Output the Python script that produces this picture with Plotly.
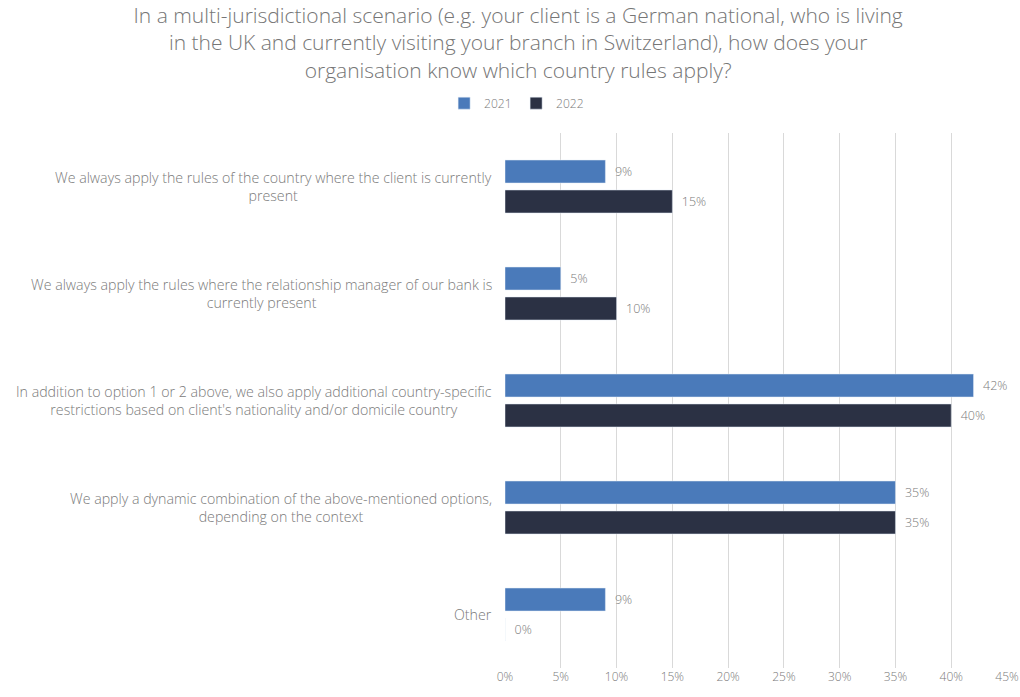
import plotly.graph_objects as go

categories = [
    "We always apply the rules of the country where the client is currently<br>present",
    "We always apply the rules where the relationship manager of our bank is<br>currently present",
    "In addition to option 1 or 2 above, we also apply additional country-specific<br>restrictions based on client's nationality and/or domicile country",
    "We apply a dynamic combination of the above-mentioned options,<br>depending on the context",
    "Other",
]
keys = ["c1", "c2", "c3", "c4", "c5"]
values_2021 = [9, 5, 42, 35, 9]
values_2022 = [15, 10, 40, 35, 0]
tick_vals = [0, 5, 10, 15, 20, 25, 30, 35, 40, 45]
tick_text = [f"{v}%" for v in tick_vals]

FONT = "'Open Sans', Lato, sans-serif"
GREY = "#7a7a7a"
PAD = "\u00a0\u00a0"

fig = go.Figure()
fig.add_trace(go.Bar(
    y=keys, x=values_2021, name="2021", orientation="h",
    marker=dict(color="#4a7aba"),
    text=[f"{PAD}{v}%" for v in values_2021], textposition="outside",
    textfont=dict(color=GREY, size=12.5, family=FONT, weight=300), cliponaxis=False,
))
fig.add_trace(go.Bar(
    y=keys, x=values_2022, name="2022", orientation="h",
    marker=dict(color="#2b3144"),
    text=[f"{PAD}{v}%" for v in values_2022], textposition="outside",
    textfont=dict(color=GREY, size=12.5, family=FONT, weight=300), cliponaxis=False,
))

# Category labels: centred multi-line text, right-aligned to the axis
for k, label in zip(keys, categories):
    fig.add_annotation(
        x=0, y=k, xref="paper", yref="y", text=label, showarrow=False,
        xanchor="right", yanchor="middle", align="center", xshift=-11,
        font=dict(color=GREY, size=14.2, family=FONT, weight=300),
    )

fig.update_layout(
    width=1020, height=697,
    margin=dict(l=505, r=13, t=133, b=29, autoexpand=False),
    paper_bgcolor="white", plot_bgcolor="white",
    barmode="group", bargap=0.44, bargroupgap=0.233,
    font=dict(family=FONT, color=GREY),
    title=dict(
        text="In a multi-jurisdictional scenario (e.g. your client is a German national, who is living<br>"
             "in the UK and currently visiting your branch in Switzerland), how does your<br>"
             "organisation know which country rules apply?",
        x=0.508, xref="container", xanchor="center",
        y=0.967, yref="container", yanchor="top",
        font=dict(size=21, color="#767676", family=FONT, weight=300),
    ),
    legend=dict(
        orientation="h", xref="container", yref="container",
        x=0.506, xanchor="center", y=0.852, yanchor="middle",
        font=dict(size=12, color=GREY, family=FONT, weight=300),
        itemwidth=30, traceorder="normal",
        entrywidth=27, entrywidthmode="pixels",
    ),
    showlegend=True,
)
fig.update_xaxes(
    range=[0, 45], tickvals=tick_vals, ticktext=tick_text, automargin=False,
    showgrid=True, gridcolor="#d9d9d9", gridwidth=1, zeroline=False,
    showline=False, ticks="", tickfont=dict(size=12, color=GREY, family=FONT, weight=300),
)
fig.update_yaxes(
    categoryorder="array", categoryarray=keys, autorange="reversed", automargin=False,
    showticklabels=False, showgrid=False, zeroline=False, ticks="",
)

fig.write_html("out.html")
